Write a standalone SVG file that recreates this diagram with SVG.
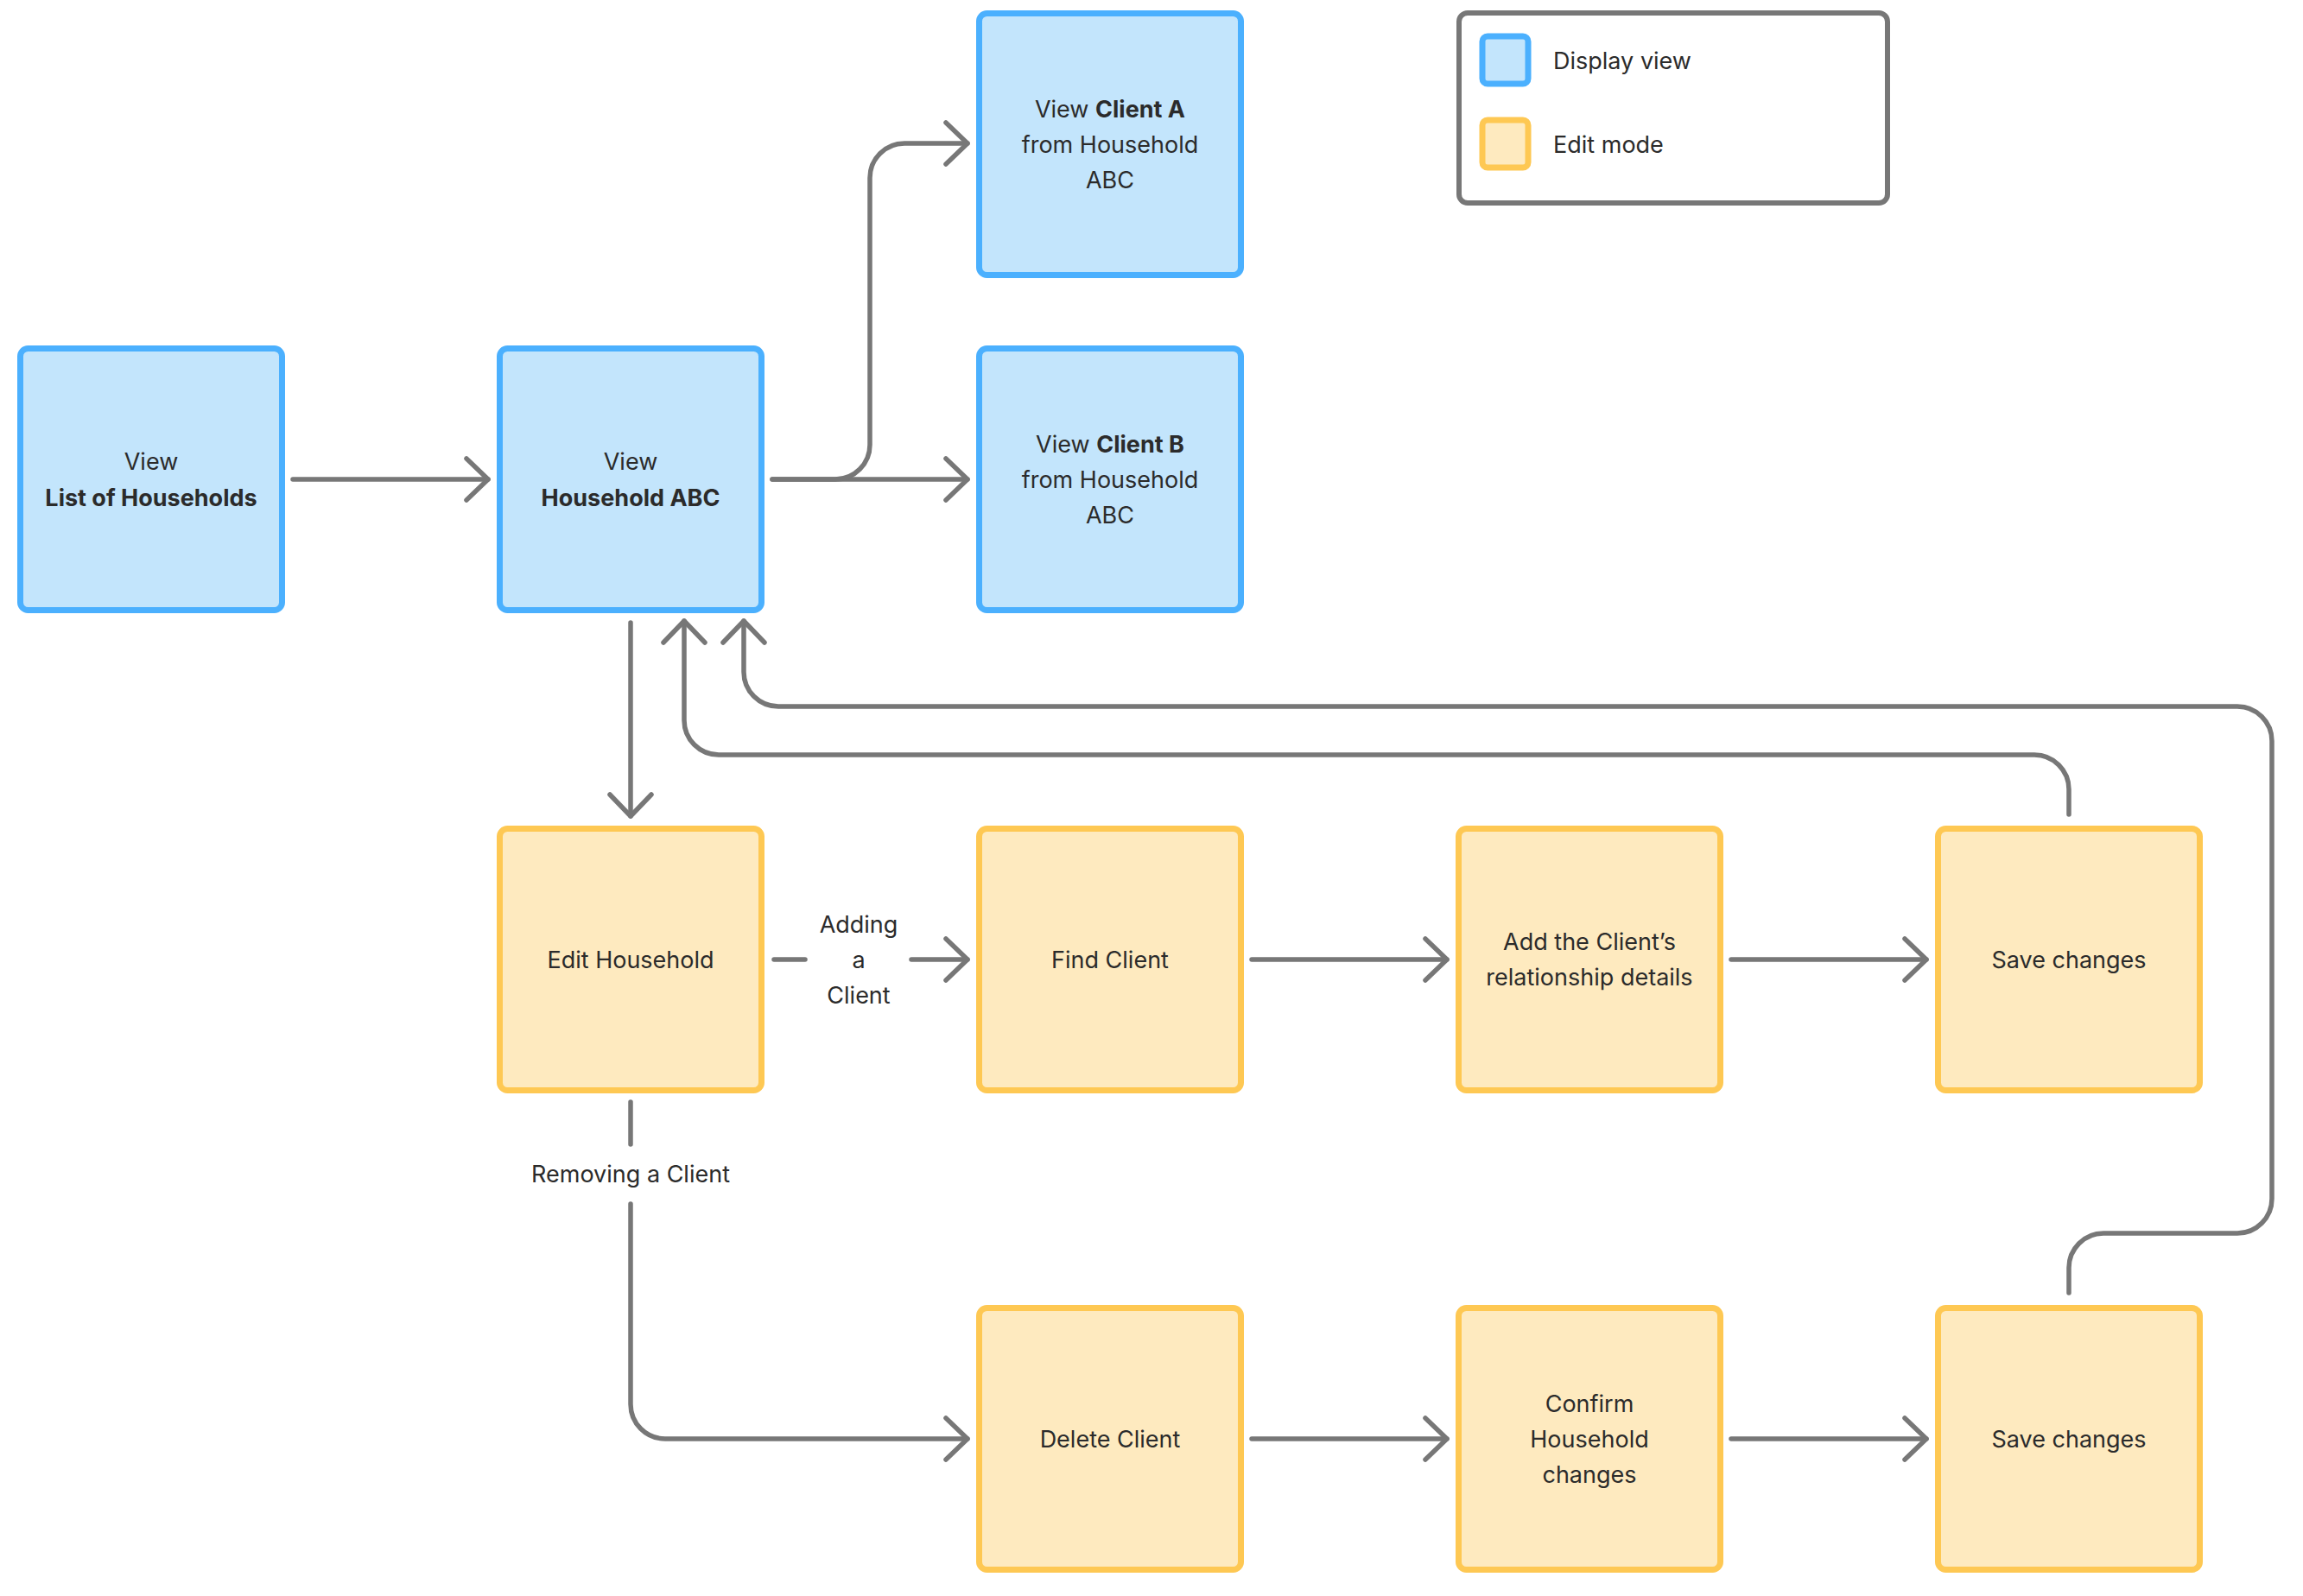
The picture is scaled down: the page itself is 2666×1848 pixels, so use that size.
<svg xmlns="http://www.w3.org/2000/svg" width="2666" height="1848" viewBox="0 0 2666 1848">
<style>
text{font-family:Inter,"Noto Sans","Liberation Sans",sans-serif;font-size:27px;fill:#2b2b2b;text-anchor:middle}
.b{font-weight:700}
.l{text-anchor:start}
.view{fill:#c3e5fc;stroke:#4bb0fe;stroke-width:7}
.edit{fill:#feeabf;stroke:#fec853;stroke-width:7}
.conn{fill:none;stroke:#777777;stroke-width:5.5;stroke-linecap:round;stroke-linejoin:round}
.arr{marker-end:url(#ah)}
</style>
<defs>
<marker id="ah" markerUnits="userSpaceOnUse" orient="auto" refX="0" refY="0" markerWidth="60" markerHeight="60" viewBox="-30 -30 60 60" overflow="visible">
<path d="M-25,-24 L0,0 L-25,24" fill="none" stroke="#777777" stroke-width="5.5" stroke-linecap="round" stroke-linejoin="round"/>
</marker>
</defs>
<rect width="2666" height="1848" fill="#ffffff"/>

<g id="legend">
<rect x="1689" y="15" width="496" height="220" rx="10" fill="#ffffff" stroke="#777777" stroke-width="6"/>
<rect x="1716" y="42" width="53" height="55" rx="6" class="view" stroke-width="6"/>
<rect x="1716" y="139" width="53" height="55" rx="6" class="edit" stroke-width="6"/>
<text class="l" x="1798" y="80">Display view</text>
<text class="l" x="1798" y="177">Edit mode</text>
</g>

<g id="connectors">
<path class="conn arr" d="M339,555 H565"/>
<path class="conn arr" d="M894,555 H1120"/>
<path class="conn arr" d="M894,555 H967 A40,40 0 0 0 1007,515 V206 A40,40 0 0 1 1047,166 H1120"/>
<path class="conn arr" d="M730,721 V945"/>
<path class="conn" d="M896,1111 H932"/>
<path class="conn arr" d="M1055,1111 H1120"/>
<path class="conn arr" d="M1449,1111 H1675"/>
<path class="conn arr" d="M2004,1111 H2230"/>
<path class="conn" d="M730,1276 V1325"/>
<path class="conn arr" d="M730,1394 V1626 A40,40 0 0 0 770,1666 H1120"/>
<path class="conn arr" d="M1449,1666 H1675"/>
<path class="conn arr" d="M2004,1666 H2230"/>
<path class="conn arr" d="M2395,943 V914 A40,40 0 0 0 2355,874 H832 A40,40 0 0 1 792,834 V719"/>
<path class="conn arr" d="M2395,1497 V1468 A40,40 0 0 1 2435,1428 H2590 A40,40 0 0 0 2630,1388 V858 A40,40 0 0 0 2590,818 H901 A40,40 0 0 1 861,778 V719"/>
<text x="994" y="1080">Adding</text>
<text x="994" y="1121">a</text>
<text x="994" y="1162">Client</text>
<text x="730" y="1369">Removing a Client</text>
</g>

<g id="list-households">
<rect class="view" x="23.5" y="403.5" width="303" height="303" rx="9"/>
<text x="175" y="544">View</text>
<text class="b" x="175" y="586">List of Households</text>
</g>
<g id="household-abc">
<rect class="view" x="578.5" y="403.5" width="303" height="303" rx="9"/>
<text x="730" y="544">View</text>
<text class="b" x="730" y="586">Household ABC</text>
</g>
<g id="client-a">
<rect class="view" x="1133.5" y="15.5" width="303" height="303" rx="9"/>
<text x="1285" y="136">View <tspan class="b">Client A</tspan></text>
<text x="1285" y="177">from Household</text>
<text x="1285" y="218">ABC</text>
</g>
<g id="client-b">
<rect class="view" x="1133.5" y="403.5" width="303" height="303" rx="9"/>
<text x="1285" y="524">View <tspan class="b">Client B</tspan></text>
<text x="1285" y="565">from Household</text>
<text x="1285" y="606">ABC</text>
</g>

<g id="edit-household">
<rect class="edit" x="578.5" y="959.5" width="303" height="303" rx="9"/>
<text x="730" y="1121">Edit Household</text>
</g>
<g id="find-client">
<rect class="edit" x="1133.5" y="959.5" width="303" height="303" rx="9"/>
<text x="1285" y="1121">Find Client</text>
</g>
<g id="add-relationship">
<rect class="edit" x="1688.5" y="959.5" width="303" height="303" rx="9"/>
<text x="1840" y="1100">Add the Client’s</text>
<text x="1840" y="1141">relationship details</text>
</g>
<g id="save-changes-1">
<rect class="edit" x="2243.5" y="959.5" width="303" height="303" rx="9"/>
<text x="2395" y="1121">Save changes</text>
</g>
<g id="delete-client">
<rect class="edit" x="1133.5" y="1514.5" width="303" height="303" rx="9"/>
<text x="1285" y="1676">Delete Client</text>
</g>
<g id="confirm-changes">
<rect class="edit" x="1688.5" y="1514.5" width="303" height="303" rx="9"/>
<text x="1840" y="1635">Confirm</text>
<text x="1840" y="1676">Household</text>
<text x="1840" y="1717">changes</text>
</g>
<g id="save-changes-2">
<rect class="edit" x="2243.5" y="1514.5" width="303" height="303" rx="9"/>
<text x="2395" y="1676">Save changes</text>
</g>
</svg>
